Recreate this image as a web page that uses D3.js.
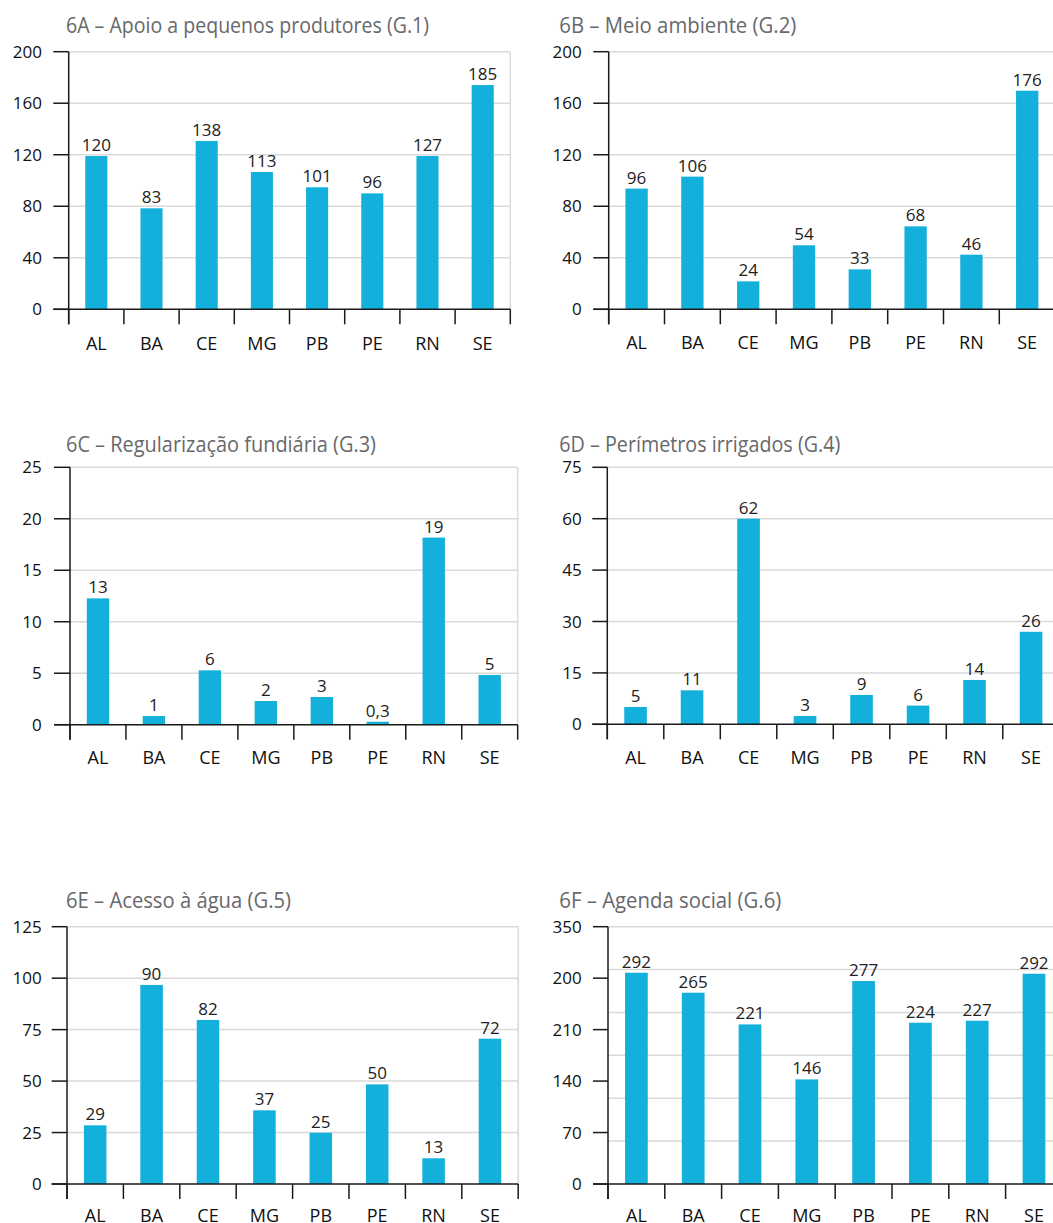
<!DOCTYPE html>
<html>
<head>
<meta charset="utf-8">
<script src="https://cdn.jsdelivr.net/npm/d3@7"></script>
<style>
  html, body { margin: 0; padding: 0; background: #fff; }
  svg { display: block; }
  text { font-family: "Open Sans", "DejaVu Sans", sans-serif; }
</style>
</head>
<body>
<svg id="chart" width="1053" height="1223"></svg>
<script>
// ---------- DATA ----------
const categories = ["AL", "BA", "CE", "MG", "PB", "PE", "RN", "SE"];

const titleA = "6A – Apoio a pequenos produtores (G.1)";
const barsA = [119.0, 78.4, 130.7, 106.6, 94.7, 90.0, 119.0, 174.1];
const labelsA = ["120", "83", "138", "113", "101", "96", "127", "185"];
const ticksA = [0, 40, 80, 120, 160, 200];
const tickLabelsA = ["0", "40", "80", "120", "160", "200"];

const titleB = "6B – Meio ambiente (G.2)";
const barsB = [93.7, 103.0, 21.7, 49.7, 31.0, 64.4, 42.4, 169.7];
const labelsB = ["96", "106", "24", "54", "33", "68", "46", "176"];
const ticksB = [0, 40, 80, 120, 160, 200];
const tickLabelsB = ["0", "40", "80", "120", "160", "200"];

const titleC = "6C – Regularização fundiária (G.3)";
const barsC = [12.27, 0.84, 5.28, 2.30, 2.69, 0.29, 18.17, 4.83];
const labelsC = ["13", "1", "6", "2", "3", "0,3", "19", "5"];
const ticksC = [0, 5, 10, 15, 20, 25];
const tickLabelsC = ["0", "5", "10", "15", "20", "25"];

const titleD = "6D – Perímetros irrigados (G.4)";
const barsD = [5.06, 9.92, 60.0, 2.43, 8.56, 5.45, 12.94, 27.0];
const labelsD = ["5", "11", "62", "3", "9", "6", "14", "26"];
const ticksD = [0, 15, 30, 45, 60, 75];
const tickLabelsD = ["0", "15", "30", "45", "60", "75"];

const titleE = "6E – Acesso à água (G.5)";
const barsE = [28.5, 96.7, 79.7, 35.8, 24.9, 48.4, 12.5, 70.6];
const labelsE = ["29", "90", "82", "37", "25", "50", "13", "72"];
const ticksE = [0, 25, 50, 75, 100, 125];
const tickLabelsE = ["0", "25", "50", "75", "100", "125"];

const titleF = "6F – Agenda social (G.6)";
const barsF = [287.4, 260.2, 217.1, 142.3, 276.1, 219.4, 222.1, 286.0];
const labelsF = ["292", "265", "221", "146", "277", "224", "227", "292"];
const ticksF = [0, 70, 140, 210, 280, 350];
const tickLabelsF = ["0", "70", "140", "210", "200", "350"];
const gridF = [58.33, 116.67, 175, 233.33, 291.67, 350];

// ---------- LAYOUT ----------
const panels = [
  { title: titleA, bars: barsA, labels: labelsA, ticks: ticksA, tickLabels: tickLabelsA, grid: ticksA.slice(1),
    ax: 68.7, top: 51.7, zero: 309.3, band: 55.2, titleX: 66, titleY: 32.7, titleW: 363, catY: 350, tlX: 42, tkX: 53.3, edge: true },
  { title: titleB, bars: barsB, labels: labelsB, ticks: ticksB, tickLabels: tickLabelsB, grid: ticksB.slice(1),
    ax: 608.7, top: 51.7, zero: 309.3, band: 55.8, titleX: 559.3, titleY: 32.7, titleW: 237, catY: 348.5, tlX: 581.7, tkX: 593.3, edge: false },
  { title: titleC, bars: barsC, labels: labelsC, ticks: ticksC, tickLabels: tickLabelsC, grid: ticksC.slice(1),
    ax: 70, top: 467.3, zero: 724.7, band: 55.96, titleX: 66, titleY: 452.3, titleW: 310, catY: 764, tlX: 41.7, tkX: 54, edge: true },
  { title: titleD, bars: barsD, labels: labelsD, ticks: ticksD, tickLabels: tickLabelsD, grid: ticksD.slice(1),
    ax: 607.3, top: 467.3, zero: 724.3, band: 56.5, titleX: 559.3, titleY: 452.3, titleW: 281, catY: 763.5, tlX: 581.7, tkX: 592.3, edge: false },
  { title: titleE, bars: barsE, labels: labelsE, ticks: ticksE, tickLabels: tickLabelsE, grid: ticksE.slice(1),
    ax: 67, top: 926.7, zero: 1184, band: 56.4, titleX: 66, titleY: 908.3, titleW: 225, catY: 1221.5, tlX: 41.7, tkX: 51.7, edge: true },
  { title: titleF, bars: barsF, labels: labelsF, ticks: ticksF, tickLabels: tickLabelsF, grid: gridF,
    ax: 608, top: 926.7, zero: 1184, band: 56.8, titleX: 559.3, titleY: 908.3, titleW: 222, catY: 1221.5, tlX: 581.7, tkX: 593, edge: false }
];

const BAR_COLOR = "#14b0dc";
const AXIS_COLOR = "#1a1a1a";
const GRID_COLOR = "#d9d9d9";

const svg = d3.select("#chart");

panels.forEach(p => {
  const right = p.ax + p.band * categories.length;
  const x = d3.scaleBand().domain(categories).range([p.ax, right]).paddingInner(0).paddingOuter(0);
  const yMax = p.ticks[p.ticks.length - 1];
  const y = d3.scaleLinear().domain([0, yMax]).range([p.zero, p.top]);
  const g = svg.append("g");

  // title
  g.append("text")
    .attr("x", p.titleX).attr("y", p.titleY)
    .attr("fill", "#67686b")
    .attr("font-size", 21)
    .attr("textLength", p.titleW)
    .attr("lengthAdjust", "spacingAndGlyphs")
    .text(p.title);

  // gridlines
  g.selectAll("line.grid").data(p.grid).enter().append("line")
    .attr("class", "grid")
    .attr("x1", p.ax).attr("x2", right)
    .attr("y1", d => y(d)).attr("y2", d => y(d))
    .attr("stroke", GRID_COLOR).attr("stroke-width", 1.5);

  // right edge line
  if (p.edge) {
    g.append("line")
      .attr("x1", right).attr("x2", right)
      .attr("y1", y(yMax)).attr("y2", p.zero)
      .attr("stroke", GRID_COLOR).attr("stroke-width", 1.5);
  }

  // bars
  g.selectAll("rect.bar").data(p.bars).enter().append("rect")
    .attr("class", "bar")
    .attr("x", (d, i) => x(categories[i]) + x.bandwidth() * 0.3)
    .attr("width", x.bandwidth() * 0.4)
    .attr("y", d => y(d))
    .attr("height", d => p.zero - y(d))
    .attr("fill", BAR_COLOR);

  // value labels
  g.selectAll("text.val").data(p.bars).enter().append("text")
    .attr("class", "val")
    .attr("x", (d, i) => x(categories[i]) + x.bandwidth() / 2)
    .attr("y", d => y(d) - 5)
    .attr("text-anchor", "middle")
    .attr("font-size", 17)
    .attr("fill", "#222")
    .text((d, i) => p.labels[i]);

  // y axis line
  g.append("line")
    .attr("x1", p.ax).attr("x2", p.ax)
    .attr("y1", y(yMax)).attr("y2", p.zero + 15)
    .attr("stroke", AXIS_COLOR).attr("stroke-width", 1.5);

  // y ticks
  g.selectAll("line.ytick").data(p.ticks).enter().append("line")
    .attr("class", "ytick")
    .attr("x1", p.tkX).attr("x2", p.ax)
    .attr("y1", d => y(d)).attr("y2", d => y(d))
    .attr("stroke", AXIS_COLOR).attr("stroke-width", 1.5);

  g.selectAll("text.ytl").data(p.ticks).enter().append("text")
    .attr("class", "ytl")
    .attr("x", p.tlX)
    .attr("y", d => y(d) + 6)
    .attr("text-anchor", "end")
    .attr("font-size", 17)
    .attr("fill", "#111")
    .text((d, i) => p.tickLabels[i]);

  // x axis baseline
  g.append("line")
    .attr("x1", p.tkX).attr("x2", right)
    .attr("y1", p.zero).attr("y2", p.zero)
    .attr("stroke", AXIS_COLOR).attr("stroke-width", 1.5);

  // category separators
  const seps = categories.map(c => x(c)).concat([right]);
  g.selectAll("line.sep").data(seps).enter().append("line")
    .attr("class", "sep")
    .attr("x1", d => d).attr("x2", d => d)
    .attr("y1", p.zero).attr("y2", p.zero + 15)
    .attr("stroke", AXIS_COLOR).attr("stroke-width", 1.5);

  // category labels
  g.selectAll("text.cat").data(categories).enter().append("text")
    .attr("class", "cat")
    .attr("x", d => x(d) + x.bandwidth() / 2)
    .attr("y", p.catY)
    .attr("text-anchor", "middle")
    .attr("font-size", 18)
    .attr("fill", "#111")
    .text(d => d);
});
</script>
</body>
</html>
